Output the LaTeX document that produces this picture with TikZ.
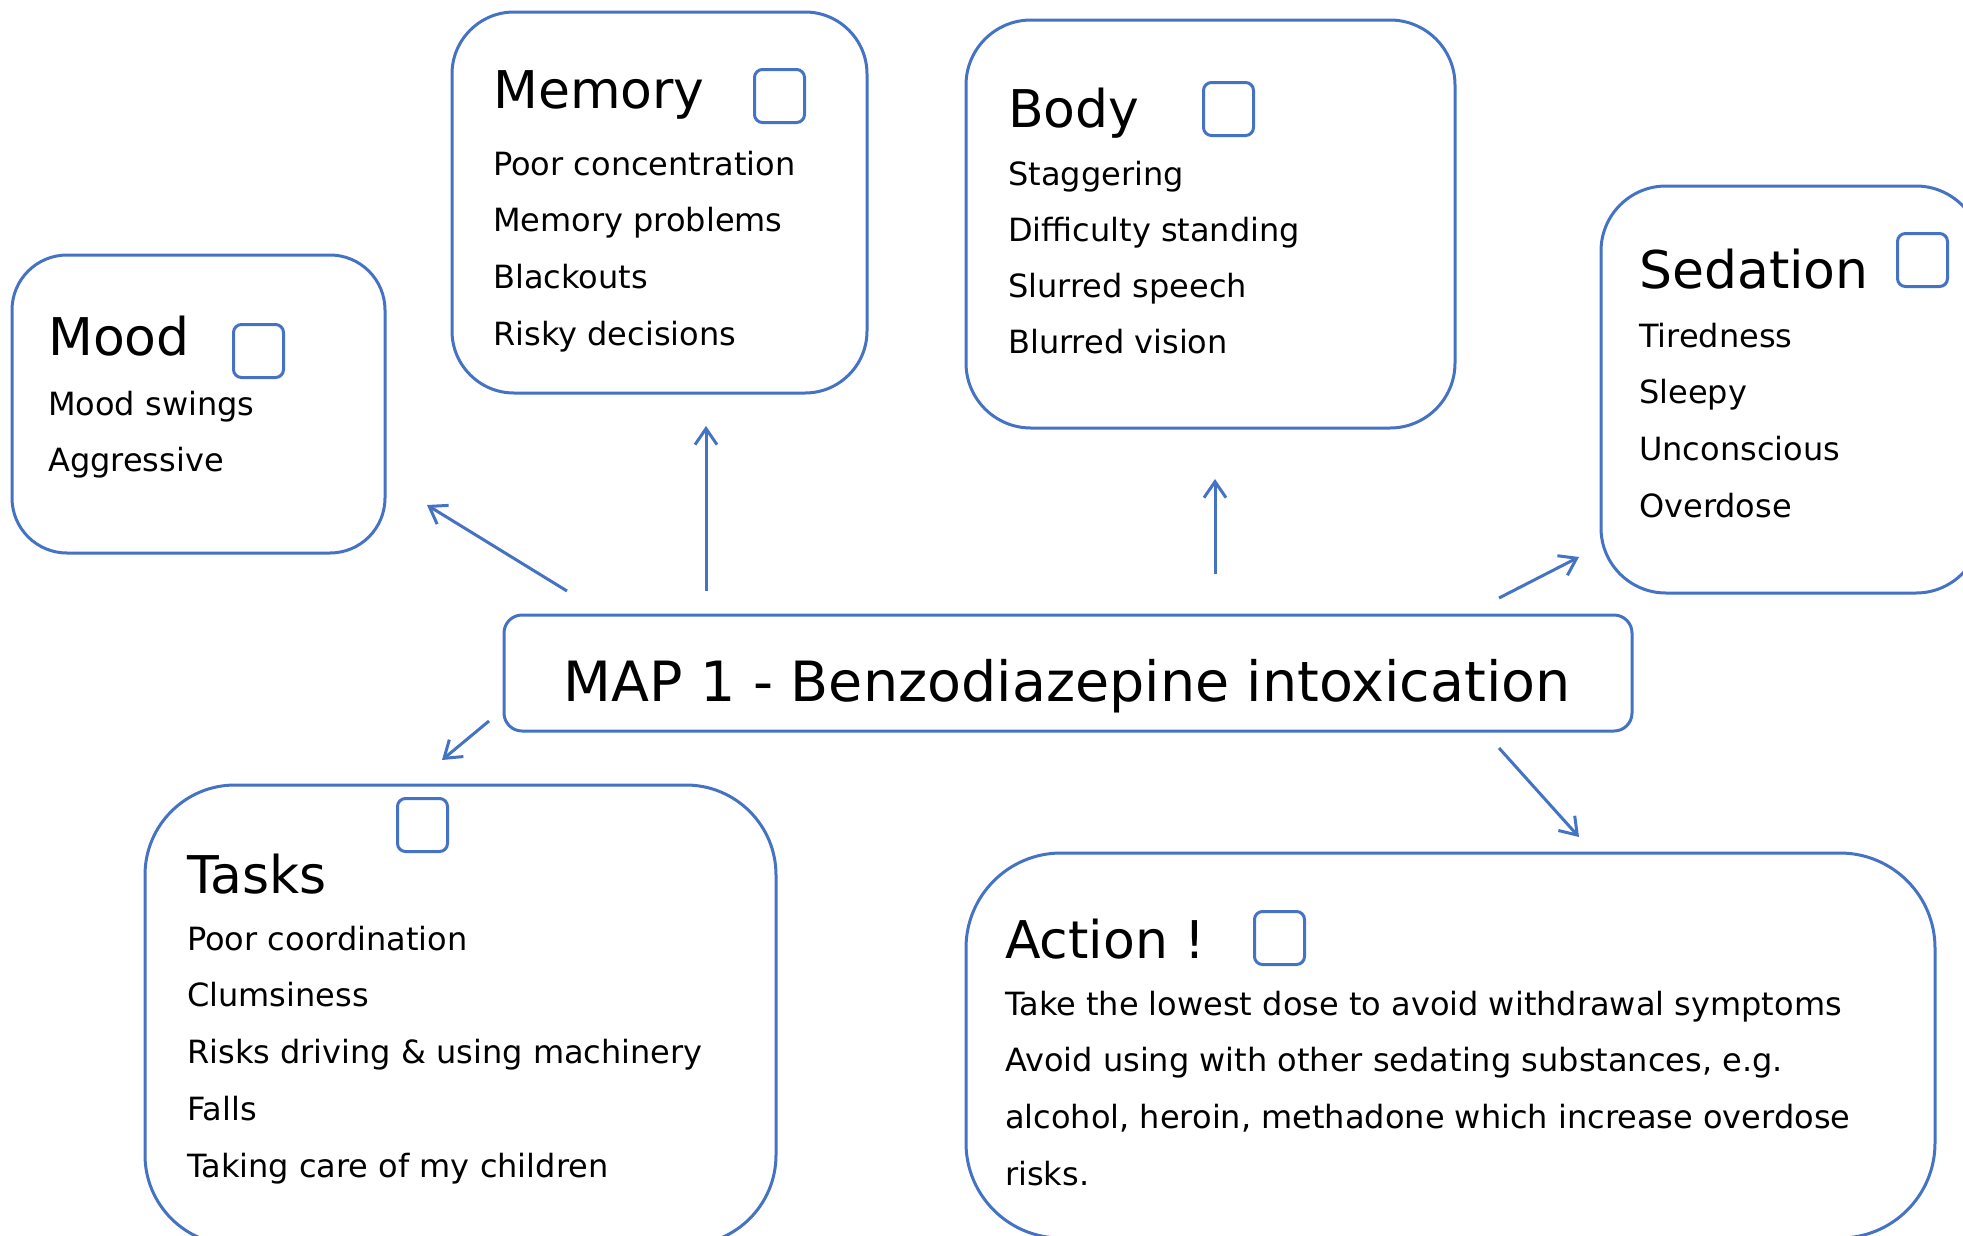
\documentclass[tikz,border=0pt]{standalone}
\usepackage{fontspec}
\setmainfont{DejaVu Sans}
\usetikzlibrary{arrows.meta}
\definecolor{mblue}{HTML}{4472C4}
\begin{document}
\begin{tikzpicture}[x=1pt,y=-1pt,
  card/.style={draw=mblue, line width=3pt, anchor=north west, inner sep=0pt, outer sep=0pt},
  chk/.style={draw=mblue, line width=3pt, rounded corners=8pt, anchor=north west, minimum width=50pt, minimum height=53pt, inner sep=0pt},
  ttl/.style={anchor=base west, inner sep=0pt, font=\fontsize{52}{60}\selectfont},
  itm/.style={anchor=base west, inner sep=0pt, font=\fontsize{32}{38}\selectfont},
  arr/.style={draw=mblue, line width=3pt, -{Straight Barb[length=16pt,width=22pt]}}]
\useasboundingbox (0,0) rectangle (1963,1235);
\clip (0,0) rectangle (1963,1235);

% boxes
\node[card, rounded corners=55pt, minimum width=373pt, minimum height=298pt] (mood) at (12,255) {};
\node[card, rounded corners=62pt, minimum width=415pt, minimum height=381pt] (memory) at (452,12) {};
\node[card, rounded corners=65pt, minimum width=489pt, minimum height=408pt] (body) at (966,20) {};
\node[card, rounded corners=65pt, minimum width=380pt, minimum height=407pt] (sedation) at (1601,186) {};
\node[card, rounded corners=18pt, minimum width=1128pt, minimum height=116pt] (map) at (504,615) {};
\node[card, rounded corners=90pt, minimum width=631pt, minimum height=460pt] (tasks) at (145,785) {};
\node[card, rounded corners=95pt, minimum width=969pt, minimum height=385pt] (action) at (966,853) {};

% checkboxes
\node[chk] (cmood) at (232,323) {};
\node[chk] (cmem) at (753,68) {};
\node[chk] (cbody) at (1202,81) {};
\node[chk] (csed) at (1896,232) {};
\node[chk] (ctasks) at (396,797) {};
\node[chk] (caction) at (1253,910) {};

% titles
\node[ttl] (tmood) at (48,355) {Mood};
\node[ttl] (tmem) at (493,108) {Memory};
\node[ttl] (tbody) at (1008,127) {Body};
\node[ttl] (tsed) at (1639,288) {Sedation};
\node[ttl] (ttasks) at (187,893) {Tasks};
\node[ttl] (taction) at (1005,958) {Action !};
\node[anchor=base, inner sep=0pt, font=\fontsize{55.5}{60}\selectfont] (maptxt) at (1067,701) {MAP 1 - Benzodiazepine intoxication};

% items
\foreach \t [count=\i] in {Mood swings, Aggressive}
  \node[itm] (mood\i) at (48,{415+56.7*(\i-1)}) {\t};
\foreach \t [count=\i] in {Poor concentration, Memory problems, Blackouts, Risky decisions}
  \node[itm] (mem\i) at (493,{175+56.7*(\i-1)}) {\t};
\foreach \t [count=\i] in {Staggering, Difficulty standing, Slurred speech, Blurred vision}
  \node[itm] (body\i) at (1008,{185+56*(\i-1)}) {\t};
\foreach \t [count=\i] in {Tiredness, Sleepy, Unconscious, Overdose}
  \node[itm] (sed\i) at (1639,{347+56.7*(\i-1)}) {\t};
\foreach \t [count=\i] in {Poor coordination, Clumsiness, Risks driving \& using machinery, Falls, Taking care of my children}
  \node[itm] (task\i) at (187,{950+56.9*(\i-1)}) {\t};
\foreach \t [count=\i] in {Take the lowest dose to avoid withdrawal symptoms, {Avoid using with other sedating substances, e.g.}, {alcohol, heroin, methadone which increase overdose}, risks.}
  \node[itm] (act\i) at (1005,{1015+56.7*(\i-1)}) {\t};

% arrows
\coordinate (a1s) at (567,591); \coordinate (a1e) at (427,505);
\coordinate (a2s) at (706,591); \coordinate (a2e) at (706,426);
\coordinate (a3s) at (1215,574); \coordinate (a3e) at (1215,479);
\coordinate (a4s) at (1499,598); \coordinate (a4e) at (1579,557);
\coordinate (a5s) at (489,721); \coordinate (a5e) at (442,760);
\coordinate (a6s) at (1499,748); \coordinate (a6e) at (1579,837);
\draw[arr] (a1s) -- (a1e);
\draw[arr] (a2s) -- (a2e);
\draw[arr] (a3s) -- (a3e);
\draw[arr] (a4s) -- (a4e);
\draw[arr] (a5s) -- (a5e);
\draw[arr] (a6s) -- (a6e);
\end{tikzpicture}
\end{document}
